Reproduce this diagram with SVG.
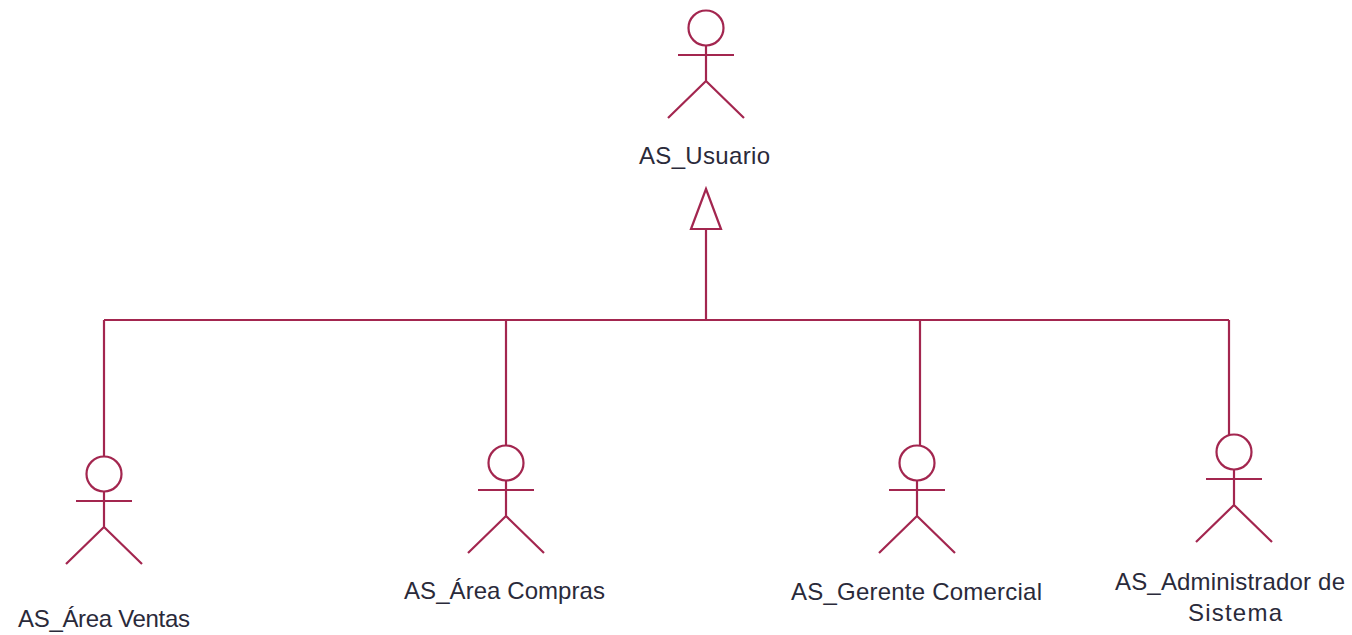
<svg xmlns="http://www.w3.org/2000/svg" width="1352" height="635" viewBox="0 0 1352 635">
<defs>
<style>
.l{fill:none;stroke:#a3264f;stroke-width:2.2}
.t{font-family:"Liberation Sans",Arial,sans-serif;font-size:24px;fill:#2a2a3a;text-anchor:middle}
</style>
<g id="actor"><circle class="l" cx="0" cy="0" r="17.5"/><path class="l" d="M0 18V53M-28 27H28M0 53L-38 90M0 53L38 90"/></g>
</defs>
<rect width="1352" height="635" fill="#fff"/>
<g id="connectors">
<path class="l" d="M706 320V229M104 320H1229M104 320V457M506 320V446M920 320V446M1229 320V435"/>
<polygon class="l" points="706,189 691,229 721,229"/>
</g>
<g id="usuario"><use href="#actor" x="706" y="28"/><text class="t" x="704.500" y="164" textLength="131">AS_Usuario</text></g>
<g id="ventas"><use href="#actor" x="104" y="474"/><text class="t" x="104" y="627" textLength="172">AS_Área Ventas</text></g>
<g id="compras"><use href="#actor" x="506" y="463"/><text class="t" x="504.500" y="599" textLength="201">AS_Área Compras</text></g>
<g id="gerente"><use href="#actor" x="917" y="463"/><text class="t" x="916.500" y="600" textLength="251">AS_Gerente Comercial</text></g>
<g id="admin"><use href="#actor" x="1234" y="452"/><text class="t" x="1230" y="590" textLength="230">AS_Administrador de</text><text class="t" x="1235" y="621" textLength="94">Sistema</text></g>
</svg>
